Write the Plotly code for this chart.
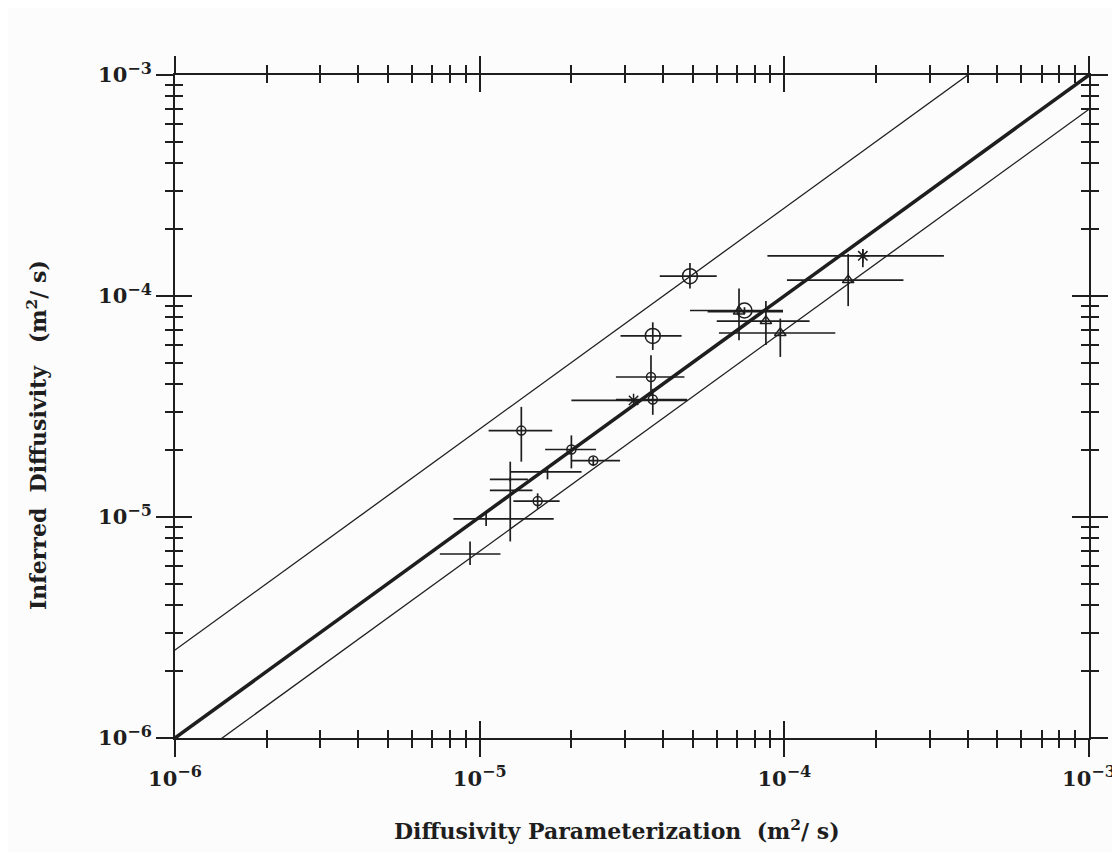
import plotly.graph_objects as go

# ---- data (m^2/s) ----
# large open circles
lc_x = [4.9e-5, 3.7e-5, 7.4e-5]
lc_xlo = [3.9e-5, 2.9e-5, 4.9e-5]
lc_xhi = [6.0e-5, 4.6e-5, 9.9e-5]
lc_y = [1.23e-4, 6.6e-5, 8.6e-5]
lc_ylo = [1.08e-4, 5.7e-5, 8.3e-5]
lc_yhi = [1.41e-4, 7.6e-5, 8.9e-5]

# small circles
sc_x = [3.65e-5, 3.7e-5, 1.37e-5, 2.0e-5, 2.36e-5, 1.55e-5]
sc_xlo = [2.8e-5, 2.8e-5, 1.07e-5, 1.64e-5, 2.0e-5, 1.29e-5]
sc_xhi = [4.7e-5, 4.8e-5, 1.73e-5, 2.41e-5, 2.89e-5, 1.83e-5]
sc_y = [4.3e-5, 3.4e-5, 2.46e-5, 2.02e-5, 1.8e-5, 1.18e-5]
sc_ylo = [3.55e-5, 2.9e-5, 1.78e-5, 1.66e-5, 1.7e-5, 1.09e-5]
sc_yhi = [5.4e-5, 3.8e-5, 3.15e-5, 2.34e-5, 1.87e-5, 1.28e-5]

# triangles
tr_x = [7.1e-5, 8.7e-5, 9.7e-5, 1.62e-4]
tr_xlo = [5.6e-5, 6.0e-5, 6.1e-5, 1.02e-4]
tr_xhi = [9.9e-5, 1.21e-4, 1.47e-4, 2.46e-4]
tr_y = [8.5e-5, 7.7e-5, 6.8e-5, 1.18e-4]
tr_ylo = [6.3e-5, 6.0e-5, 5.3e-5, 9.0e-5]
tr_yhi = [1.08e-4, 9.5e-5, 7.9e-5, 1.55e-4]

# asterisks
as_x = [3.2e-5, 1.81e-4]
as_xlo = [2.0e-5, 8.8e-5]
as_xhi = [4.8e-5, 3.34e-4]
as_y = [3.37e-5, 1.52e-4]
as_ylo = [3.3e-5, 1.35e-4]
as_yhi = [3.45e-5, 1.63e-4]

# bare crosses (no marker)
bc_x = [1.67e-5, 1.26e-5, 1.26e-5, 1.05e-5, 9.3e-6]
bc_xlo = [1.26e-5, 1.08e-5, 1.08e-5, 8.2e-6, 7.4e-6]
bc_xhi = [2.16e-5, 1.49e-5, 1.44e-5, 1.75e-5, 1.17e-5]
bc_y = [1.6e-5, 1.32e-5, 1.48e-5, 9.8e-6, 6.8e-6]
bc_ylo = [1.48e-5, 7.75e-6, 1.45e-5, 9.1e-6, 6.06e-6]
bc_yhi = [1.66e-5, 1.78e-5, 1.51e-5, 1.06e-5, 7.75e-6]

# reference lines y = k * x
line_k = [1.0, 2.5, 0.7]
line_w = [3.5, 1.3, 1.3]
line_x = [1e-7, 1e-2]

decades = [1e-6, 1e-5, 1e-4, 1e-3]
exponents = ["\u22126", "\u22125", "\u22124", "\u22123"]
decade_text = ["<b>10<sup><span style='font-size:16px'>%s</span></sup></b>" % e for e in exponents]
minor_vals = [m * d for d in [1e-6, 1e-5, 1e-4] for m in range(2, 10)]

INK = "#1e1e1e"
FONT = "DejaVu Serif"

fig = go.Figure()

for k, w in zip(line_k, line_w):
    fig.add_trace(go.Scatter(x=line_x, y=[k * v for v in line_x], mode="lines",
                             line=dict(color=INK, width=w), showlegend=False, hoverinfo="skip"))


def add_group(xs, xlo, xhi, ys, ylo, yhi, symbol, size):
    fig.add_trace(go.Scatter(
        x=xs, y=ys, mode="markers",
        marker=dict(symbol=symbol, size=size, color=INK, line=dict(color=INK, width=1.5)),
        error_x=dict(type="data", symmetric=False,
                     array=[h - c for h, c in zip(xhi, xs)],
                     arrayminus=[c - l for l, c in zip(xlo, xs)],
                     color=INK, thickness=1.7, width=0),
        error_y=dict(type="data", symmetric=False,
                     array=[h - c for h, c in zip(yhi, ys)],
                     arrayminus=[c - l for l, c in zip(ylo, ys)],
                     color=INK, thickness=1.7, width=0),
        showlegend=False, hoverinfo="skip"))


add_group(lc_x, lc_xlo, lc_xhi, lc_y, lc_ylo, lc_yhi, "circle-open", 15)
add_group(sc_x, sc_xlo, sc_xhi, sc_y, sc_ylo, sc_yhi, "circle-open", 9)
add_group(tr_x, tr_xlo, tr_xhi, tr_y, tr_ylo, tr_yhi, "triangle-up-open", 10)
add_group(as_x, as_xlo, as_xhi, as_y, as_ylo, as_yhi, "asterisk-open", 11)
add_group(bc_x, bc_xlo, bc_xhi, bc_y, bc_ylo, bc_yhi, "line-ns-open", 1)

# dummy trace for the overlay axes (inner halves of the crossing ticks)
fig.add_trace(go.Scatter(x=[1e-5], y=[1e-5], xaxis="x2", yaxis="y2", mode="markers",
                         marker=dict(opacity=0), showlegend=False, hoverinfo="skip"))

common = dict(type="log", range=[-6, -3], showgrid=False, zeroline=False,
              tickmode="array", tickvals=decades, ticklen=17, tickwidth=1.7, tickcolor=INK)
minor_out = dict(tickmode="array", tickvals=minor_vals, ticks="outside",
                 ticklen=8, tickwidth=1.7, tickcolor=INK)
minor_in = dict(tickmode="array", tickvals=minor_vals, ticks="inside",
                ticklen=8, tickwidth=1.7, tickcolor=INK)

fig.update_layout(
    width=1120, height=852,
    margin=dict(l=167, r=31, t=67, b=122),
    paper_bgcolor="#fcfcfd", plot_bgcolor="#fcfcfd",
    font=dict(family=FONT, color=INK, size=20),
    xaxis=dict(**common, ticktext=decade_text, ticks="outside", mirror="ticks",
               showline=True, linecolor=INK, linewidth=2, ticklabelstandoff=4,
               tickfont=dict(family=FONT, size=21, color=INK), minor=minor_out),
    yaxis=dict(**common, ticktext=decade_text, ticks="outside", mirror="ticks",
               showline=True, linecolor=INK, linewidth=2,
               tickfont=dict(family=FONT, size=21, color=INK), minor=minor_out),
    xaxis2=dict(**common, overlaying="x", anchor="y2", side="bottom", ticks="inside",
                mirror="ticks", showline=False, showticklabels=False, minor=minor_in),
    yaxis2=dict(**common, overlaying="y", anchor="x2", side="left", ticks="inside",
                mirror="ticks", showline=False, showticklabels=False, minor=minor_in),
    annotations=[
        dict(text="<b>Diffusivity Parameterization  (m<sup>2</sup>/ s)</b>", xref="paper", yref="paper",
             x=0.484, y=0, xanchor="center", yanchor="top", yshift=-76, showarrow=False,
             font=dict(family=FONT, size=22, color=INK)),
        dict(text="<b>Inferred  Diffusivity   (m<sup>2</sup>/ s)</b>", xref="paper", yref="paper",
             x=0, y=0.457, xanchor="center", yanchor="middle", xshift=-138, textangle=-90,
             showarrow=False, font=dict(family=FONT, size=22, color=INK)),
    ],
)

fig.write_html("out.html")
